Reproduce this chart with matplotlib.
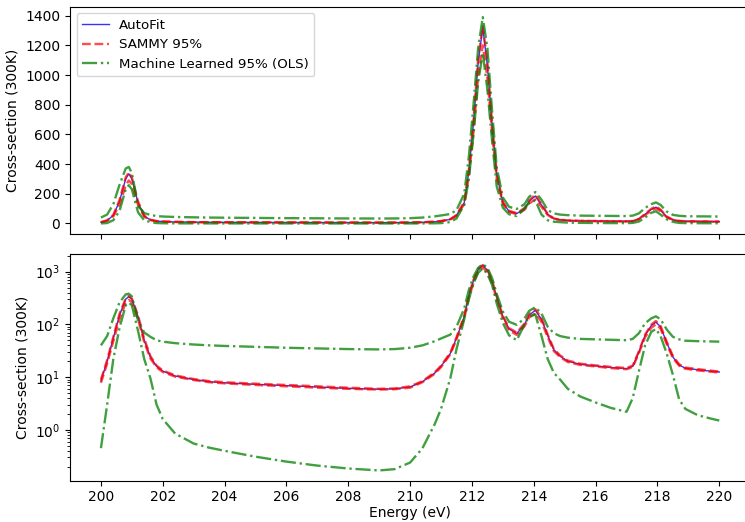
import numpy as np
import matplotlib
matplotlib.use('Agg')
import matplotlib.pyplot as plt

# energy grid (eV)
energy = [200.0, 200.2, 200.4, 200.6, 200.8, 200.9, 201.0, 201.2, 201.4, 201.6, 201.8, 202.0,
          202.4, 203.0, 203.5, 204.0, 205.0, 206.0, 207.0, 208.0, 209.0, 209.5, 210.0, 210.4,
          210.8, 211.0, 211.3, 211.5, 211.75, 211.9, 212.05, 212.2, 212.35, 212.5, 212.65, 212.8,
          213.0, 213.2, 213.45, 213.7, 213.85, 214.05, 214.25, 214.45, 214.65, 214.85, 215.1, 215.5,
          216.0, 216.5, 217.0, 217.2, 217.4, 217.6, 217.8, 217.95, 218.1, 218.3, 218.5, 218.7,
          218.9, 219.3, 219.7, 220.0]

autofit = [8.5, 20, 55, 150, 300, 335, 300, 140, 50, 24, 16, 13,
           10.5, 9.0, 8.2, 7.8, 7.3, 6.9, 6.5, 6.1, 5.9, 6.0, 6.5, 8.2,
           12, 16, 28, 55, 140, 350, 680, 1080, 1320, 1060, 660, 330,
           140, 82, 67, 100, 150, 185, 125, 62, 33, 25, 20, 17.5,
           16.3, 15.2, 14.5, 16, 30, 62, 95, 110, 90, 45, 24, 17,
           14.8, 13.8, 13.0, 12.5]

sammy_lo = [7.8, 18, 48, 125, 255, 290, 265, 125, 46, 22.5, 15.3, 12.5,
            10.2, 8.8, 8.0, 7.6, 7.1, 6.7, 6.3, 6.0, 5.8, 5.9, 6.3, 8.0,
            11.6, 15.5, 27, 52, 130, 320, 620, 990, 1200, 980, 610, 305,
            132, 77, 63, 92, 135, 162, 112, 57, 31, 24, 19.3, 17,
            15.9, 14.8, 14.1, 15.5, 28.5, 57, 86, 100, 83, 42, 23, 16.5,
            14.4, 13.4, 12.7, 12.2]

sammy_hi = [9.0, 21, 58, 158, 310, 345, 310, 148, 53, 25, 16.5, 13.4,
            10.8, 9.2, 8.4, 8.0, 7.5, 7.1, 6.7, 6.3, 6.0, 6.1, 6.7, 8.4,
            12.4, 16.5, 29, 57, 146, 362, 700, 1110, 1330, 1090, 680, 340,
            145, 85, 70, 104, 156, 195, 130, 64, 34, 25.8, 20.6, 18,
            16.7, 15.6, 14.9, 16.5, 31, 64, 99, 116, 94, 47, 25, 17.5,
            15.2, 14.2, 13.3, 12.8]

ml_lo = [0.45, 3, 22, 85, 230, 258, 230, 75, 22, 9.5, 3.0, 1.6,
         0.85, 0.55, 0.46, 0.40, 0.31, 0.25, 0.21, 0.185, 0.17, 0.18, 0.24, 0.45,
         1.3, 2.5, 9.5, 34, 125, 300, 600, 950, 1150, 900, 560, 250,
         106, 62, 50, 100, 140, 155, 60, 22, 12, 9, 6, 4.3,
         3.3, 2.6, 2.2, 4.0, 13, 40, 72, 82, 60, 28, 11, 3.8,
         2.5, 1.9, 1.65, 1.5]

ml_hi = [40, 60, 130, 260, 370, 381, 340, 120, 70, 58, 50, 47,
         44, 41.5, 40, 39, 37.5, 36, 35, 34, 33.5, 34, 36, 40,
         48, 54, 64, 90, 200, 450, 800, 1180, 1390, 1180, 760, 380,
         175, 112, 98, 130, 180, 212, 160, 90, 68, 60, 56, 53,
         52, 51, 50, 53, 68, 105, 130, 142, 125, 80, 58, 52,
         49, 48, 47.5, 47]

fig, axes = plt.subplots(2, 1, sharex=True, figsize=(7.45, 5.22), dpi=100)
fig.subplots_adjust(left=0.094, right=1.007, top=0.987, bottom=0.079, hspace=0.088)

for ax in axes:
    ax.plot(energy, autofit, color='blue', lw=1, alpha=0.8, label='AutoFit')
    ax.plot(energy, sammy_lo, 'r--', lw=1.7, alpha=0.7, label='SAMMY 95%')
    ax.plot(energy, sammy_hi, 'r--', lw=1.7, alpha=0.7)
    ax.plot(energy, ml_lo, 'g-.', lw=1.7, alpha=0.75, label='Machine Learned 95% (OLS)')
    ax.plot(energy, ml_hi, 'g-.', lw=1.7, alpha=0.75)
    ax.set_ylabel('Cross-section (300K)')

axes[0].legend(loc='upper left', fontsize=9.6)
axes[1].set_yscale('log')
axes[1].set_xlabel('Energy (eV)', labelpad=1)
axes[1].set_xticks(np.arange(200, 221, 2))

plt.savefig('out.png')
